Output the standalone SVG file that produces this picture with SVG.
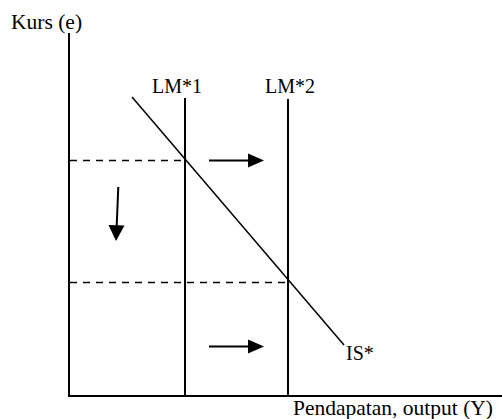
<svg xmlns="http://www.w3.org/2000/svg" width="502" height="419" viewBox="0 0 502 419">
<defs>
<style>
text{font-family:"Liberation Serif","Times New Roman",serif;font-size:20px;fill:#000}
.big{font-size:21.5px}
.axis{stroke:#000;stroke-width:2;fill:none}
.lm{stroke:#000;stroke-width:2;fill:none}
.is{stroke:#000;stroke-width:1.5;fill:none}
.dash{stroke:#000;stroke-width:1.5;stroke-dasharray:7 6;fill:none}
.arr{stroke:#000;stroke-width:2;fill:none}
.head{fill:#000;stroke:none}
</style>
</defs>
<rect width="502" height="419" fill="#fff"/>
<g id="axes">
<line class="axis" x1="69" y1="33" x2="69" y2="396"/>
<line class="axis" x1="68" y1="396" x2="502" y2="396"/>
<text class="big" x="11" y="29">Kurs (e)</text>
<text class="big" x="293" y="415">Pendapatan, output (Y)</text>
</g>
<g id="lm1">
<line class="lm" x1="185" y1="98" x2="185" y2="396"/>
<text x="152" y="93">LM*1</text>
</g>
<g id="lm2">
<line class="lm" x1="288" y1="99" x2="288" y2="396"/>
<text x="265" y="93">LM*2</text>
</g>
<g id="is">
<line class="is" x1="132" y1="97" x2="344" y2="345"/>
<text x="346" y="360">IS*</text>
</g>
<g id="connectors">
<line class="dash" x1="70" y1="160.5" x2="185" y2="160.5"/>
<line class="dash" x1="70" y1="282.5" x2="288" y2="282.5"/>
<line class="arr" x1="209" y1="160.5" x2="250" y2="160.5"/>
<polygon class="head" points="248,153.5 264,160.5 248,167.5"/>
<line class="arr" x1="118.3" y1="187" x2="116.6" y2="228"/>
<polygon class="head" points="108.5,225 124.5,225.5 116,241"/>
<line class="arr" x1="209" y1="346.5" x2="250" y2="346.5"/>
<polygon class="head" points="248,339.5 264,346.5 248,353.5"/>
</g>
</svg>
